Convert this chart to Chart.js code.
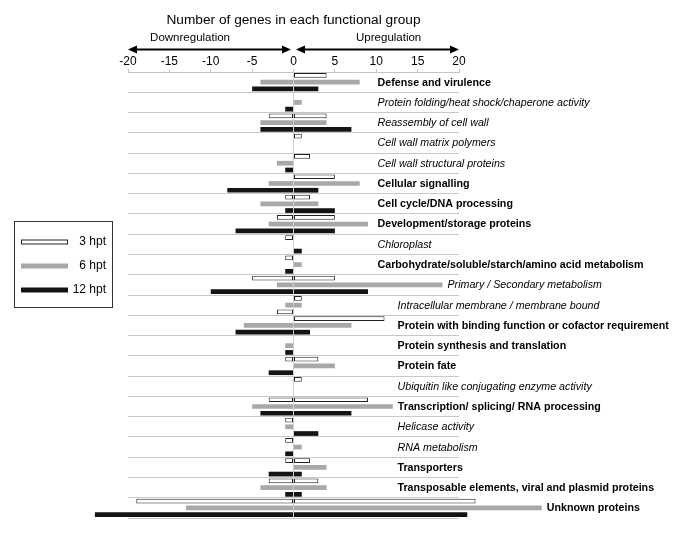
<!DOCTYPE html>
<html>
<head>
<meta charset="utf-8">
<script src="https://cdn.jsdelivr.net/npm/chart.js@4"></script>
<style>
  body { margin: 0; background: #fff; }
  #wrap { width: 685px; height: 544px; }
</style>
</head>
<body>
<div id="wrap"><canvas id="myChart"></canvas></div>
<script>
const categories = [
  "Defense and virulence",
  "Protein folding/heat shock/chaperone activity",
  "Reassembly of cell wall",
  "Cell wall matrix polymers",
  "Cell wall structural proteins",
  "Cellular signalling",
  "Cell cycle/DNA processing",
  "Development/storage proteins",
  "Chloroplast",
  "Carbohydrate/soluble/starch/amino acid metabolism",
  "Primary / Secondary metabolism",
  "Intracellular membrane / membrane bound",
  "Protein with binding function or cofactor requirement",
  "Protein synthesis and translation",
  "Protein fate",
  "Ubiquitin like conjugating enzyme activity",
  "Transcription/ splicing/ RNA processing",
  "Helicase activity",
  "RNA metabolism",
  "Transporters",
  "Transposable elements, viral and plasmid proteins",
  "Unknown proteins"
];
// subgroups are written in italics, main groups in bold
const subgroup = [false, true, true, true, true, false, false, false, true, false, true,
                  true, false, false, false, true, false, true, true, false, false, false];

// downregulated (negative) and upregulated (positive) gene counts
const down3  = [0, 0, -3, 0, 0, 0, -1, -2, -1, -1, -5, 0, 0, 0, -1, 0, -3, -1, -1, -1, -3, -19];
const up3    = [4, 0, 4, 1, 2, 5, 2, 5, 0, 0, 5, 1, 11, 0, 3, 1, 9, 0, 0, 2, 3, 22];
const down6  = [-4, 0, -4, 0, -2, -3, -4, -3, 0, 0, -2, -1, -6, -1, 0, 0, -5, -1, 0, 0, -4, -13];
const up6    = [8, 1, 4, 0, 0, 8, 3, 9, 0, 1, 18, 1, 7, 0, 5, 0, 12, 0, 1, 4, 4, 30];
const down12 = [-5, -1, -4, 0, -1, -8, -1, -7, 0, -1, -10, -2, -7, -1, -3, 0, -4, 0, -1, -3, -1, -24];
const up12   = [3, 0, 7, 0, 0, 3, 5, 5, 1, 0, 9, 0, 2, 0, 0, 0, 7, 3, 0, 1, 1, 21];

const xTicks = [-20, -15, -10, -5, 0, 5, 10, 15, 20];

const FONT = '"Liberation Sans", Arial, sans-serif';
const WHITE = '#ffffff', GRAY = '#a8a8a8', BLACK = '#141414';

const nz = arr => arr.map(v => v === 0 ? null : v);

function series(label, stack, values, fill, outlined) {
  return {
    label: label,
    stack: stack,
    data: nz(values),
    backgroundColor: fill,
    borderColor: outlined ? '#222' : fill,
    borderWidth: outlined ? 1 : 0,
    borderSkipped: false,
    clip: false
  };
}

const data = {
  labels: categories,
  datasets: [
    series('3 hpt', 'h3', down3, WHITE, true),
    series('3 hpt', 'h3', up3, WHITE, true),
    series('6 hpt', 'h6', down6, GRAY, false),
    series('6 hpt', 'h6', up6, GRAY, false),
    // the original draws the downregulated 12 hpt bar of the membrane group as an open bar
    Object.assign(series('12 hpt', 'h12', down12, BLACK, false), {
      backgroundColor: c => categories[c.dataIndex].startsWith('Intracellular') ? WHITE : BLACK,
      borderColor: '#222',
      borderWidth: c => categories[c.dataIndex].startsWith('Intracellular') ? 1 : 0
    }),
    series('12 hpt', 'h12', up12, BLACK, false)
  ]
};

function arrow(ctx, x1, x2, y) {
  const dir = Math.sign(x2 - x1);
  ctx.beginPath();
  ctx.moveTo(x1 + dir * 6, y);
  ctx.lineTo(x2 - dir * 6, y);
  ctx.lineWidth = 2;
  ctx.stroke();
  [[x1, dir], [x2, -dir]].forEach(([px, d]) => {
    ctx.beginPath();
    ctx.moveTo(px, y);
    ctx.lineTo(px + d * 9, y - 4);
    ctx.lineTo(px + d * 9, y + 4);
    ctx.closePath();
    ctx.fill();
  });
}

const annotate = {
  id: 'annotate',
  afterDraw(chart) {
    const { ctx, scales: { x, y } } = chart;
    const x0 = x.getPixelForValue(0);
    ctx.save();
    ctx.fillStyle = '#000';
    ctx.strokeStyle = '#000';
    ctx.textBaseline = 'middle';

    ctx.textAlign = 'center';
    ctx.font = '13.7px ' + FONT;
    ctx.fillText('Number of genes in each functional group', x0, 20);

    ctx.font = '11.5px ' + FONT;
    ctx.fillText('Downregulation', x.getPixelForValue(-12.5), 38);
    ctx.fillText('Upregulation', x.getPixelForValue(11.5), 38);
    arrow(ctx, x.left, x0 - 2.5, 49.5);
    arrow(ctx, x0 + 2.5, x.right, 49.5);

    // group names to the right of the bars
    ctx.textAlign = 'left';
    categories.forEach((c, i) => {
      const yc = y.getPixelForValue(i);
      const reach = Math.max(up3[i], up6[i], up12[i]);
      const base = x0 + (i < 11 ? 84 : 104);
      const lx = Math.max(base, x.getPixelForValue(reach) + 5);
      ctx.font = (subgroup[i] ? 'italic ' : 'bold ') + '10.7px ' + FONT;
      ctx.fillText(c, lx, yc + 0.5);
    });

    // legend box
    ctx.lineWidth = 1;
    ctx.strokeStyle = '#333';
    ctx.strokeRect(14.5, 221.5, 98, 86);
    const items = [['3 hpt', WHITE, true], ['6 hpt', GRAY, false], ['12 hpt', BLACK, false]];
    ctx.font = '12px ' + FONT;
    ctx.textAlign = 'right';
    items.forEach(([lab, col, outl], k) => {
      const yy = 242 + k * 24;
      ctx.fillStyle = col;
      ctx.fillRect(21, yy - 2.5, 47, 5);
      if (outl) { ctx.strokeStyle = '#222'; ctx.strokeRect(21.5, yy - 2, 46, 4); }
      ctx.fillStyle = '#000';
      ctx.fillText(lab, 106, yy);
    });
    ctx.restore();
  }
};

const config = {
  type: 'bar',
  data: data,
  options: {
    indexAxis: 'y',
    responsive: true,
    maintainAspectRatio: false,
    animation: false,
    categoryPercentage: 1.0,
    barPercentage: 0.7,
    layout: { padding: { left: 128, right: 226, top: 50, bottom: 26 } },
    plugins: {
      legend: { display: false },
      tooltip: { enabled: false }
    },
    scales: {
      x: {
        position: 'top',
        stacked: true,
        min: -20,
        max: 20,
        afterBuildTicks: s => { s.ticks = xTicks.map(v => ({ value: v })); },
        afterFit: s => { s.height = 22; },
        ticks: { color: '#000', font: { family: FONT, size: 12 }, padding: 0 },
        border: { display: true, color: '#c4c4c4' },
        grid: {
          drawOnChartArea: true,
          color: c => (c.tick && c.tick.value === 0) ? '#cfcfcf' : 'rgba(0,0,0,0)',
          tickColor: '#c4c4c4',
          tickLength: 3
        }
      },
      y: {
        stacked: true,
        afterFit: s => { s.width = 0; },
        ticks: { display: false },
        border: { display: false },
        grid: { offset: true, color: '#c8c8c8', drawTicks: false }
      }
    }
  },
  plugins: [annotate]
};

const ctx = document.getElementById('myChart').getContext('2d');
const myChart = new Chart(ctx, config);
</script>
</body>
</html>
